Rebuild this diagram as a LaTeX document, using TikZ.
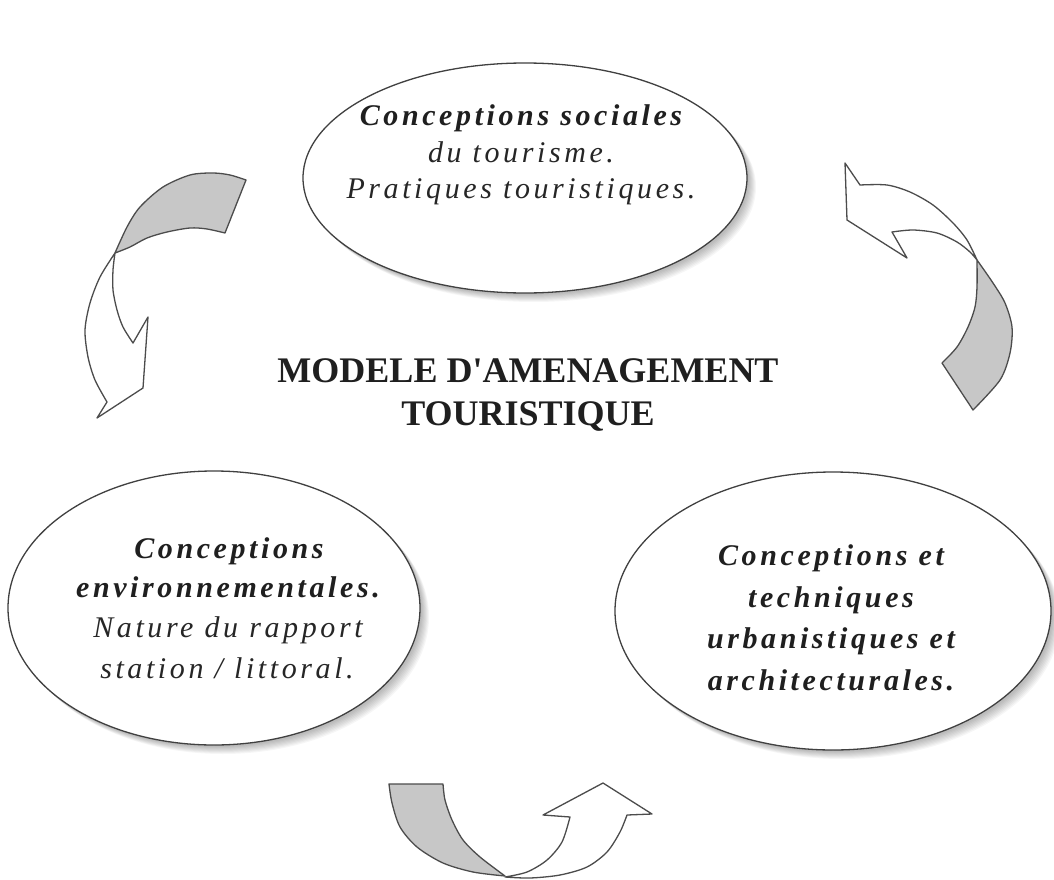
\documentclass[tikz,border=0pt]{standalone}
\usepackage{fontspec}
\setmainfont{Liberation Serif}
\newfontfamily\lsfont[LetterSpace=12]{Liberation Serif}
\usetikzlibrary{shapes.geometric}
\begin{document}
\begin{tikzpicture}[x=1pt,y=-1pt,
  ell/.style={ellipse, draw=black!75, line width=1.3pt, fill=white, inner sep=0pt},
  bi/.style={font=\lsfont\fontsize{30}{36}\selectfont\bfseries\itshape, anchor=base, inner sep=0pt, text=black!88},
  it/.style={font=\lsfont\fontsize{30}{36}\selectfont\itshape, anchor=base, inner sep=0pt, text=black!85},
  ttl/.style={font=\fontsize{36}{40}\selectfont\bfseries, anchor=base, inner sep=0pt, text=black!88},
  arr/.style={draw=black!70, line width=1.3pt, line join=round},
  grayband/.style={arr, fill=black!22},
  whiteband/.style={arr, fill=white},
  shadowell/.style={fill=black, opacity=0.035}]
\useasboundingbox (0,0) rectangle (1054,880);
\fill[white] (0,0) rectangle (1054,880);

% shadows
\foreach \d in {2,...,9} {
  \fill[shadowell] (525+\d,178+\d) ellipse [x radius=222pt, y radius=115pt];
  \fill[shadowell] (214+\d,608+\d) ellipse [x radius=206pt, y radius=137pt];
  \fill[shadowell] (833+\d,611+\d) ellipse [x radius=218pt, y radius=139pt];
}

% ellipses
\node[ell, minimum width=444pt, minimum height=230pt] (topell) at (525,178) {};
\node[ell, minimum width=412pt, minimum height=274pt] (leftell) at (214,608) {};
\node[ell, minimum width=436pt, minimum height=278pt] (rightell) at (833,611) {};

% texts top
\node[bi] (t1) at (521,125) {Conceptions sociales};
\node[it] (t2) at (521,162) {du tourisme.};
\node[it] (t3) at (521,198) {Pratiques touristiques.};

% texts left
\node[bi] (l1) at (229,558) {Conceptions};
\node[bi] (l2) at (228,597) {environnementales.};
\node[it] (l3) at (228,637) {Nature du rapport};
\node[it] (l4) at (227,678) {station / littoral.};

% texts right
\node[bi] (r1) at (831,565) {Conceptions et};
\node[bi] (r2) at (831,607) {techniques};
\node[bi] (r3) at (831,648) {urbanistiques et};
\node[bi] (r4) at (831,690) {architecturales.};

% title
\node[ttl] (m1) at (528,382) {MODELE D\textquotesingle AMENAGEMENT};
\node[ttl] (m2) at (528,425) {TOURISTIQUE};

% left arrow
\draw[grayband] plot[smooth] coordinates {(246,180) (230,175) (213,173) (190,175) (163,187) (140,207) (127,227) (115,253)}
  -- plot[smooth] coordinates {(115,253) (130,247) (147,238) (167,232) (190,228) (207,229) (225,233)} -- cycle;
\draw[whiteband] plot[smooth] coordinates {(115,253) (100,277) (90,303) (85,330) (88,357) (95,380) (107,402)}
  -- (97,418) -- (143,388) -- (148,317)
  -- plot[smooth] coordinates {(133,343) (123,327) (117,310) (113,290) (113,270) (115,253)} -- cycle;

% right arrow
\draw[grayband] plot[smooth] coordinates {(977,260) (993,283) (1005,303) (1012,327) (1010,353) (1000,380) (973,410)}
  -- plot[smooth] coordinates {(942,363) (957,347) (968,327) (975,307) (977,287) (977,260)} -- cycle;
\draw[whiteband] plot[smooth] coordinates {(977,260) (967,240) (953,223) (933,205) (910,192) (887,185) (860,185)}
  -- (845,163) -- (847,220) -- (907,258)
  -- plot[smooth] coordinates {(892,232) (913,230) (937,233) (957,242) (970,252) (977,260)} -- cycle;

% bottom arrow
\draw[grayband] (389,784) -- plot[smooth] coordinates {(443,784) (445,800) (452,820) (463,840) (480,857) (505,876)}
  -- plot[smooth] coordinates {(505,876) (473,872) (443,863) (417,847) (400,827) (392,803) (389,784)} -- cycle;
\draw[whiteband] plot[smooth] coordinates {(505,877) (527,872) (547,860) (562,842) (570,817)}
  -- (543,815) -- (603,783) -- (652,814)
  -- plot[smooth] coordinates {(627,815) (620,832) (607,852) (587,867) (560,875) (530,878) (505,877)} -- cycle;
\end{tikzpicture}
\end{document}
